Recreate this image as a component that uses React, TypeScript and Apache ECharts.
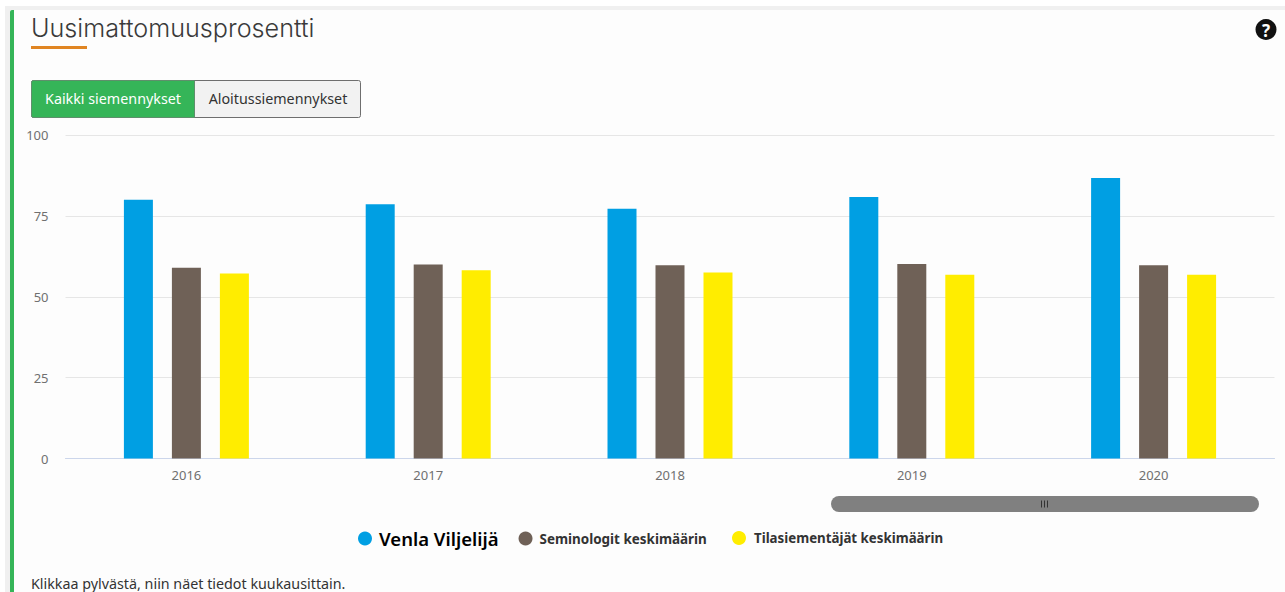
import React, { useEffect, useRef } from "react";
import * as echarts from "echarts";

const years = ["2016", "2017", "2018", "2019", "2020"];
const venla = [80, 78.6, 77.2, 80.8, 86.7];
const seminologit = [59, 60, 59.7, 60.1, 59.7];
const tilasiementajat = [57.2, 58.2, 57.5, 56.8, 56.8];
const seriesNames = ["Venla Viljelijä", "Seminologit keskimäärin", "Tilasiementäjät keskimäärin"];
const colors = ["#009fe3", "#6f6157", "#ffed00"];
const axisTicks = [0, 25, 50, 75, 100];

const font = "'Noto Sans', sans-serif";

export default function App() {
  const ref = useRef<HTMLDivElement>(null);
  useEffect(() => {
    document.body.style.margin = "0";
    const chart = echarts.init(ref.current!, undefined, { renderer: "svg" });
    const bar = (i: number, data: number[]) => ({
      name: seriesNames[i],
      type: "bar",
      data,
      barWidth: 29,
      barGap: "65.5%",
      itemStyle: { color: colors[i] },
    });
    const legendBase = {
      icon: "circle",
      itemWidth: 14,
      itemHeight: 14,
      itemGap: 20,
      selectedMode: false,
    };
    chart.setOption({
      animation: false,
      backgroundColor: "#fdfdfd",
      grid: { left: 65.5, right: 10.5, top: 135, height: 323.5 },
      xAxis: {
        type: "category",
        data: years,
        axisTick: { show: false },
        axisLine: { lineStyle: { color: "#ccd6eb", width: 1 } },
        axisLabel: { color: "#707070", fontSize: 13, fontFamily: font, margin: 10 },
      },
      yAxis: {
        type: "value",
        min: axisTicks[0],
        max: axisTicks[axisTicks.length - 1],
        interval: 25,
        axisLine: { show: false },
        axisTick: { show: false },
        splitLine: { lineStyle: { color: "#e6e6e6", width: 1 } },
        axisLabel: { color: "#707070", fontSize: 13, fontFamily: font, margin: 17 },
      },
      legend: [
        {
          ...legendBase,
          left: 353,
          top: 524,
          data: [
            { name: seriesNames[0], textStyle: { fontSize: 18.5, fontWeight: 600, color: "#000000", fontFamily: font, padding: [0, 0, 0, 2] } },
            { name: seriesNames[1], textStyle: { fontSize: 13.45, fontWeight: 700, color: "#333333", fontFamily: font, padding: [0, 0, 0, 2] } },
          ],
        },
        {
          ...legendBase,
          left: 727,
          top: 526,
          data: [
            { name: seriesNames[2], textStyle: { fontSize: 13.3, fontWeight: 700, color: "#333333", fontFamily: font, padding: [0, 0, 0, 3] } },
          ],
        },
      ],
      series: [bar(0, venla), bar(1, seminologit), bar(2, tilasiementajat)],
      graphic: [
        { type: "rect", silent: true, z: -1, shape: { x: 0, y: 0, width: 1285, height: 6 }, style: { fill: "#ffffff" } },
        { type: "rect", silent: true, z: -1, shape: { x: 0, y: 6, width: 1285, height: 4 }, style: { fill: "#f0f0f0" } },
        { type: "rect", silent: true, z: -1, shape: { x: 5, y: 6, width: 5, height: 586 }, style: { fill: "#f0f0f0" } },
        { type: "rect", silent: true, z: -1, shape: { x: 0, y: 0, width: 5, height: 592 }, style: { fill: "#ffffff" } },
        { type: "rect", silent: true, shape: { x: 10, y: 10, width: 4, height: 582, r: [2, 0, 0, 0] }, style: { fill: "#35b558" } },
        { type: "text", silent: true, x: 31, y: 15.5, style: { text: "Uusimattomuusprosentti", font: "300 25.2px Inter, 'Open Sans', sans-serif", fill: "#3a3a3a" } },
        { type: "rect", silent: true, shape: { x: 31, y: 46, width: 56, height: 3 }, style: { fill: "#e08522" } },
        { type: "rect", silent: true, shape: { x: 31.5, y: 80.5, width: 329, height: 37, r: 2 }, style: { fill: "#f2f2f2", stroke: "#6e6e6e", lineWidth: 1 } },
        { type: "rect", silent: true, shape: { x: 31.5, y: 80.5, width: 163, height: 37, r: [2, 0, 0, 2] }, style: { fill: "#35b558", stroke: "#5f8f6c", lineWidth: 1 } },
        { type: "text", silent: true, x: 113, y: 98.5, style: { text: "Kaikki siemennykset", font: "14.3px 'Noto Sans', sans-serif", fill: "#ffffff", align: "center", verticalAlign: "middle" } },
        { type: "text", silent: true, x: 278, y: 98.5, style: { text: "Aloitussiemennykset", font: "14.3px 'Noto Sans', sans-serif", fill: "#333333", align: "center", verticalAlign: "middle" } },
        { type: "circle", silent: true, shape: { cx: 1266, cy: 29.5, r: 10.5 }, style: { fill: "#111111" } },
        { type: "text", silent: true, x: 1266, y: 30, style: { text: "?", font: "bold 17px 'Noto Sans', sans-serif", fill: "#ffffff", align: "center", verticalAlign: "middle" } },
        { type: "rect", silent: true, shape: { x: 831, y: 496, width: 428, height: 16, r: 8 }, style: { fill: "#808080" } },
        { type: "rect", silent: true, shape: { x: 1041, y: 500.5, width: 1, height: 7 }, style: { fill: "#333333" } },
        { type: "rect", silent: true, shape: { x: 1044, y: 500.5, width: 1, height: 7 }, style: { fill: "#333333" } },
        { type: "rect", silent: true, shape: { x: 1047, y: 500.5, width: 1, height: 7 }, style: { fill: "#333333" } },
        { type: "text", silent: true, x: 31, y: 576, style: { text: "Klikkaa pylvästä, niin näet tiedot kuukausittain.", font: "14.3px 'Noto Sans', sans-serif", fill: "#333333" } },
      ],
    });
    return () => chart.dispose();
  }, []);
  return <div ref={ref} style={{ width: 1285, height: 592 }} />;
}
